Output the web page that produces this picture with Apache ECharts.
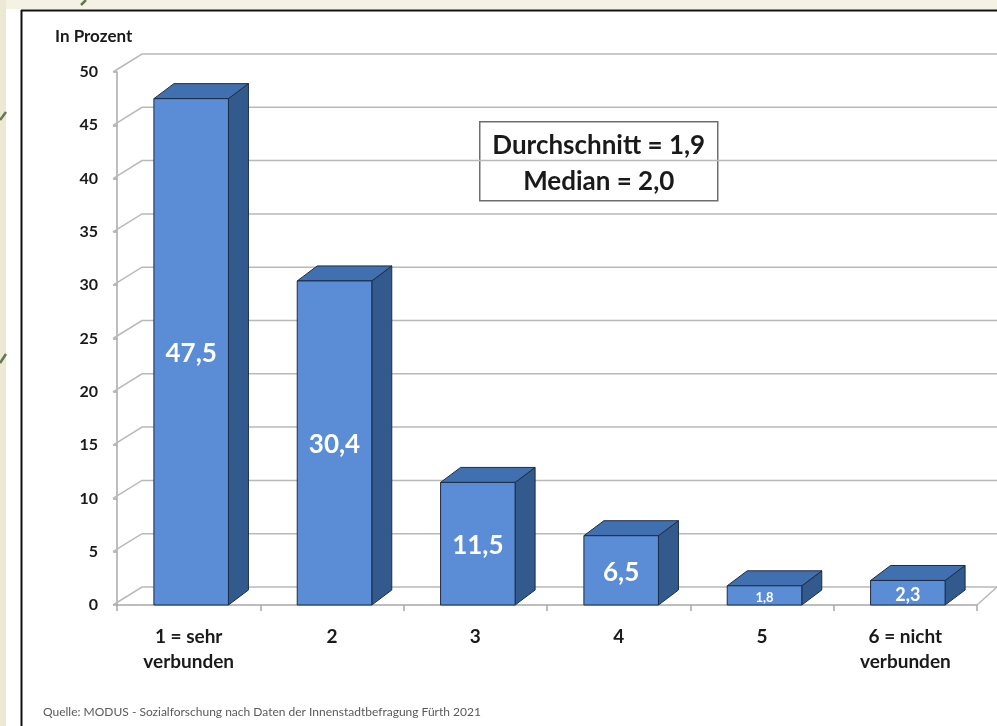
<!DOCTYPE html>
<html>
<head>
<meta charset="utf-8">
<script src="https://cdn.jsdelivr.net/npm/echarts@6/dist/echarts.min.js"></script>
<style>
  html, body { margin: 0; padding: 0; background: #fff; }
  #chart { width: 997px; height: 726px; }
</style>
</head>
<body>
<div id="chart"></div>
<script>
'use strict';
// Verbundenheit mit der Innenstadt, Angaben in Prozent
const categories = ['1 = sehr\nverbunden', '2', '3', '4', '5', '6 = nicht\nverbunden'];
const values = [47.5, 30.4, 11.5, 6.5, 1.8, 2.3];
const yTicks = [0, 5, 10, 15, 20, 25, 30, 35, 40, 45, 50];
const infoLines = ['Durchschnitt = 1,9', 'Median = 2,0'];

const FONT = 'Lato';
const front = '#5a8dd5';
const topCol = '#4170b0';
const sideCol = '#335a8d';
const edge = '#1d2c44';

{
    let dom = document.getElementById('chart');
    let myChart = echarts.init(dom, null, {renderer: 'canvas'});

    // back wall lines, drawn through the y axis scale
    function renderGrid(params, api) {
        const v = api.value(1);
        const y = api.coord([0, v])[1];
        const cs = params.coordSys;
        const L = cs.x, R = cs.x + cs.width;
        const children = [{
            type: 'polyline',
            shape: {points: [[L - 4, y], [L + 25, y - 18], [R + 40, y - 18]]},
            style: {stroke: '#b9b9b9', lineWidth: 1.5, fill: null}
        }];
        if (v === 0) {
            children.push({
                type: 'line',
                shape: {x1: R, y1: y, x2: R + 20, y2: y - 18},
                style: {stroke: '#b9b9b9', lineWidth: 1.5}
            });
        }
        return {type: 'group', children: children};
    }

    // 3d style bars
    function renderBar(params, api) {
        const i = api.value(0);
        const v = api.value(1);
        const p0 = api.coord([i, 0]);
        const p1 = api.coord([i, v]);
        const band = api.size([1, 0])[0];
        const w = band * 0.52;
        const cx = p0[0] + 2.5;
        const x0 = cx - w / 2, x1 = cx + w / 2;
        const yb = p0[1], yt = p1[1];
        const dx = 20, dy = -15;
        const h = yb - yt;
        const fs = h < 20 ? 13 : (h < 30 ? 18 : 26);
        return {
            type: 'group',
            children: [{
                type: 'polygon',
                shape: {points: [[x1, yt], [x1 + dx, yt + dy], [x1 + dx, yb + dy], [x1, yb]]},
                style: {fill: sideCol, stroke: edge, lineWidth: 1}
            }, {
                type: 'polygon',
                shape: {points: [[x0, yt], [x1, yt], [x1 + dx, yt + dy], [x0 + dx, yt + dy]]},
                style: {fill: topCol, stroke: edge, lineWidth: 1}
            }, {
                type: 'rect',
                shape: {x: x0, y: yt, width: w, height: h},
                style: {fill: front, stroke: edge, lineWidth: 1}
            }, {
                type: 'text',
                x: cx,
                y: (yt + yb) / 2 + 2,
                style: {
                    text: v.toFixed(1).replace('.', ','),
                    fill: '#ffffff',
                    font: 'bold ' + fs + 'px ' + FONT,
                    align: 'center',
                    verticalAlign: 'middle'
                }
            }]
        };
    }

    const option = {
        backgroundColor: '#ffffff',
        animation: false,
        grid: {left: 117, right: 20, top: 72, bottom: 121, outerBoundsMode: 'none'},
        xAxis: {
            type: 'category',
            data: categories,
            boundaryGap: true,
            axisLine: {show: true, lineStyle: {color: '#a8a8a8', width: 1.5}},
            axisTick: {show: true, length: 6, lineStyle: {color: '#a8a8a8', width: 1.5}},
            axisLabel: {
                margin: 19,
                color: '#1a1a1a',
                fontFamily: FONT,
                fontWeight: 'bold',
                fontSize: 19,
                lineHeight: 25
            },
            splitLine: {show: false}
        },
        yAxis: {
            type: 'value',
            min: 0,
            max: 50,
            interval: 5,
            axisLine: {show: true, lineStyle: {color: '#a8a8a8', width: 1.5}},
            axisTick: {show: true, length: 4, lineStyle: {color: '#a8a8a8', width: 1.5}},
            axisLabel: {
                margin: 19,
                color: '#1a1a1a',
                fontFamily: FONT,
                fontWeight: 'bold',
                fontSize: 16
            },
            splitLine: {show: false}
        },
        series: [{
            type: 'custom',
            name: 'grid',
            silent: true,
            z: 1,
            renderItem: renderGrid,
            data: yTicks.map(function (t) { return [0, t]; })
        }, {
            type: 'custom',
            name: 'Prozent',
            z: 3,
            renderItem: renderBar,
            data: values.map(function (v, i) { return [i, v]; })
        }],
        graphic: [
            // page background bits outside the frame
            {type: 'rect', shape: {x: 0, y: 0, width: 997, height: 9}, style: {fill: '#f4f2e3'}, silent: true},
            {type: 'rect', shape: {x: 0, y: 0, width: 6, height: 726}, style: {fill: '#ebe8d4'}, silent: true},
            {type: 'line', shape: {x1: 81, y1: 5, x2: 86, y2: 0}, style: {stroke: '#667650', lineWidth: 2.5}},
            {type: 'line', shape: {x1: 0, y1: 120, x2: 6, y2: 112}, style: {stroke: '#667650', lineWidth: 2.5}},
            {type: 'line', shape: {x1: 0, y1: 363, x2: 6, y2: 354}, style: {stroke: '#667650', lineWidth: 2.5}},
            // frame
            {type: 'line', shape: {x1: 21, y1: 10.5, x2: 997, y2: 10.5}, style: {stroke: '#111', lineWidth: 2}},
            {type: 'line', shape: {x1: 21.5, y1: 10, x2: 21.5, y2: 726}, style: {stroke: '#111', lineWidth: 2}},
            // axis title
            {
                type: 'text', left: 55, top: 28,
                style: {text: 'In Prozent', fill: '#1a1a1a', font: 'bold 17px ' + FONT}
            },
            // info box
            {
                type: 'group', left: 479, top: 121, z: 10,
                children: [{
                    type: 'rect',
                    shape: {x: 0, y: 0, width: 238, height: 79},
                    style: {fill: '#ffffff', stroke: '#6e6e6e', lineWidth: 1.5}
                }, {
                    type: 'text', x: 119, y: 24,
                    style: {text: infoLines[0], fill: '#1a1a1a', font: 'bold 26px ' + FONT, align: 'center', verticalAlign: 'middle'}
                }, {
                    type: 'text', x: 119, y: 60,
                    style: {text: infoLines[1], fill: '#1a1a1a', font: 'bold 26px ' + FONT, align: 'center', verticalAlign: 'middle'}
                }]
            },
            // source
            {
                type: 'text', left: 43, top: 706,
                style: {
                    text: 'Quelle: MODUS - Sozialforschung nach Daten der Innenstadtbefragung Fürth 2021',
                    fill: '#5a5a5a', font: '12px ' + FONT
                }
            }
        ]
    };

    if (option && typeof option === 'object') {
        myChart.setOption(option, true);
    }
}
</script>
</body>
</html>
